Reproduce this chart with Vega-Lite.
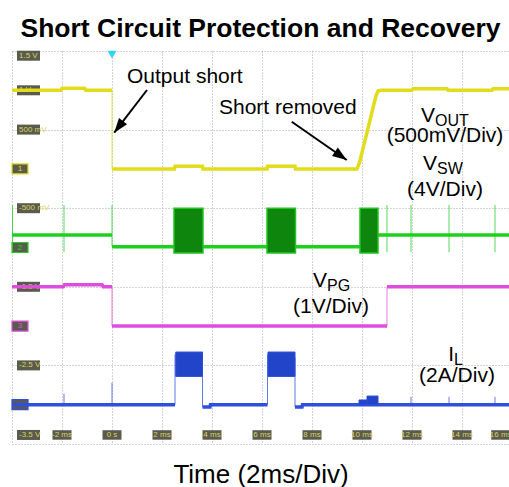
{
  "$schema": "https://vega.github.io/schema/vega-lite/v6.json",
  "width": 497,
  "height": 393,
  "autosize": "none",
  "padding": {"left": 12, "top": 51, "right": 0, "bottom": 43},
  "background": "white",
  "title": {"text": "Short Circuit Protection and Recovery", "font": "Liberation Sans", "fontSize": 26.5, "fontWeight": "bold", "color": "#000000", "anchor": "middle", "offset": 8},
  "config": {
    "view": {"stroke": null},
    "axis": {"labels": false, "ticks": false, "domain": false, "grid": true, "gridColor": "#a8a8a8", "gridDash": [1, 2], "gridWidth": 1}
  },
  "datasets": {
    "traces": [
      {"ch": "VOUT", "seg": "y1", "t": -4, "v": 1.0}, {"ch": "VOUT", "seg": "y1", "t": -2.05, "v": 1.0}, {"ch": "VOUT", "seg": "y1", "t": -2.0, "v": 1.025}, {"ch": "VOUT", "seg": "y1", "t": -1.1, "v": 1.025}, {"ch": "VOUT", "seg": "y1", "t": -1.05, "v": 1.0}, {"ch": "VOUT", "seg": "y1", "t": 0, "v": 1.0},
      {"ch": "VOUT", "seg": "y2", "t": 0, "v": 0.0}, {"ch": "VOUT", "seg": "y2", "t": 2.5, "v": 0.0}, {"ch": "VOUT", "seg": "y2", "t": 2.52, "v": 0.035}, {"ch": "VOUT", "seg": "y2", "t": 3.62, "v": 0.035}, {"ch": "VOUT", "seg": "y2", "t": 3.64, "v": 0.0}, {"ch": "VOUT", "seg": "y2", "t": 6.2, "v": 0.0}, {"ch": "VOUT", "seg": "y2", "t": 6.22, "v": 0.035}, {"ch": "VOUT", "seg": "y2", "t": 7.32, "v": 0.035}, {"ch": "VOUT", "seg": "y2", "t": 7.34, "v": 0.0}, {"ch": "VOUT", "seg": "y2", "t": 9.8, "v": 0.0}, {"ch": "VOUT", "seg": "y2", "t": 9.9, "v": 0.08}, {"ch": "VOUT", "seg": "y2", "t": 10.56, "v": 0.93}, {"ch": "VOUT", "seg": "y2", "t": 10.64, "v": 0.99}, {"ch": "VOUT", "seg": "y2", "t": 10.76, "v": 1.0}, {"ch": "VOUT", "seg": "y2", "t": 12.0, "v": 1.0}, {"ch": "VOUT", "seg": "y2", "t": 12.04, "v": 1.02}, {"ch": "VOUT", "seg": "y2", "t": 13.4, "v": 1.02}, {"ch": "VOUT", "seg": "y2", "t": 13.44, "v": 1.0}, {"ch": "VOUT", "seg": "y2", "t": 15.2, "v": 1.0}, {"ch": "VOUT", "seg": "y2", "t": 15.24, "v": 1.02}, {"ch": "VOUT", "seg": "y2", "t": 15.88, "v": 1.02},
      {"ch": "VSW", "seg": "g1", "t": -4, "v": -0.84}, {"ch": "VSW", "seg": "g1", "t": 0, "v": -0.84},
      {"ch": "VSW", "seg": "g2", "t": 0, "v": -0.99}, {"ch": "VSW", "seg": "g2", "t": 9.92, "v": -0.99}, {"ch": "VSW", "seg": "g2", "t": 10.64, "v": -0.84}, {"ch": "VSW", "seg": "g2", "t": 15.88, "v": -0.84},
      {"ch": "VPG", "seg": "p1", "t": -4, "v": -1.5}, {"ch": "VPG", "seg": "p1", "t": -1.95, "v": -1.5}, {"ch": "VPG", "seg": "p1", "t": -1.9, "v": -1.475}, {"ch": "VPG", "seg": "p1", "t": -0.4, "v": -1.475}, {"ch": "VPG", "seg": "p1", "t": -0.35, "v": -1.5}, {"ch": "VPG", "seg": "p1", "t": 0, "v": -1.5},
      {"ch": "VPG", "seg": "p2", "t": 0, "v": -2.0}, {"ch": "VPG", "seg": "p2", "t": 11.0, "v": -2.0},
      {"ch": "VPG", "seg": "p3", "t": 11.0, "v": -1.5}, {"ch": "VPG", "seg": "p3", "t": 15.88, "v": -1.5},
      {"ch": "IL", "seg": "i1", "t": -4, "v": -3.0}, {"ch": "IL", "seg": "i1", "t": 2.52, "v": -3.0},
      {"ch": "IL", "seg": "i2", "t": 3.62, "v": -3.03}, {"ch": "IL", "seg": "i2", "t": 3.92, "v": -3.03}, {"ch": "IL", "seg": "i2", "t": 3.94, "v": -3.0}, {"ch": "IL", "seg": "i2", "t": 6.22, "v": -3.0},
      {"ch": "IL", "seg": "i3", "t": 7.32, "v": -3.03}, {"ch": "IL", "seg": "i3", "t": 7.6, "v": -3.03}, {"ch": "IL", "seg": "i3", "t": 7.62, "v": -3.0}, {"ch": "IL", "seg": "i3", "t": 15.88, "v": -3.0}
    ],
    "bursts": [
      {"ch": "VSW", "t0": 2.48, "t1": 3.64, "top": -0.5, "bottom": -1.07},
      {"ch": "VSW", "t0": 6.2, "t1": 7.34, "top": -0.5, "bottom": -1.07},
      {"ch": "VSW", "t0": 9.92, "t1": 10.64, "top": -0.5, "bottom": -1.07},
      {"ch": "IL", "t0": 2.55, "t1": 3.62, "top": -2.33, "bottom": -2.64},
      {"ch": "IL", "t0": 6.24, "t1": 7.32, "top": -2.33, "bottom": -2.64},
      {"ch": "IL", "t0": 9.88, "t1": 10.2, "top": -2.94, "bottom": -3.0},
      {"ch": "IL", "t0": 10.2, "t1": 10.64, "top": -2.89, "bottom": -3.0}
    ],
    "spikes": [
      {"ch": "VOUT", "t": 0.0, "lo": 0.0, "hi": 1.0},
      {"ch": "VSW", "t": -3.98, "lo": -1.06, "hi": -0.46},
      {"ch": "VSW", "t": -1.92, "lo": -1.06, "hi": -0.46},
      {"ch": "VSW", "t": 0.0, "lo": -0.99, "hi": -0.46},
      {"ch": "VSW", "t": 11.0, "lo": -1.06, "hi": -0.46},
      {"ch": "VSW", "t": 11.96, "lo": -1.06, "hi": -0.46},
      {"ch": "VSW", "t": 13.48, "lo": -1.06, "hi": -0.46},
      {"ch": "VSW", "t": 15.32, "lo": -1.06, "hi": -0.46},
      {"ch": "VPG", "t": 0.0, "lo": -2.0, "hi": -1.5},
      {"ch": "VPG", "t": 11.0, "lo": -2.0, "hi": -1.5},
      {"ch": "IL", "t": -1.92, "lo": -3.0, "hi": -2.86},
      {"ch": "IL", "t": 0.0, "lo": -3.0, "hi": -2.72},
      {"ch": "IL", "t": 2.52, "lo": -3.0, "hi": -2.36},
      {"ch": "IL", "t": 3.62, "lo": -3.03, "hi": -2.4},
      {"ch": "IL", "t": 6.22, "lo": -3.0, "hi": -2.36},
      {"ch": "IL", "t": 7.32, "lo": -3.03, "hi": -2.4},
      {"ch": "IL", "t": 11.96, "lo": -3.0, "hi": -2.9},
      {"ch": "IL", "t": 13.48, "lo": -3.0, "hi": -2.9},
      {"ch": "IL", "t": 15.32, "lo": -3.0, "hi": -2.9}
    ],
    "xlabels": [
      {"t": -2, "v": -3.385, "label": "-2 ms"}, {"t": 0, "v": -3.385, "label": "0 s"}, {"t": 2, "v": -3.385, "label": "2 ms"}, {"t": 4, "v": -3.385, "label": "4 ms"}, {"t": 6, "v": -3.385, "label": "6 ms"}, {"t": 8, "v": -3.385, "label": "8 ms"}, {"t": 10, "v": -3.385, "label": "10 ms"}, {"t": 12, "v": -3.385, "label": "12 ms"}, {"t": 14, "v": -3.385, "label": "14 ms"}, {"t": 15.55, "v": -3.385, "label": "16 ms"}
    ],
    "ylabels": [
      {"t": -3.8, "v": 1.44, "label": "1.5 V"}, {"t": -3.8, "v": 1.0, "label": "1 V"}, {"t": -3.8, "v": 0.5, "label": "500 mV"}, {"t": -3.8, "v": -0.5, "label": "-500 mV"}, {"t": -3.8, "v": -1.5, "label": "-1.5 V"}, {"t": -3.8, "v": -2.5, "label": "-2.5 V"}, {"t": -3.8, "v": -3.385, "label": "-3.5 V"}
    ],
    "markers": [
      {"ch": "VOUT", "t": -4, "v": 0, "label": "1"}, {"ch": "VSW", "t": -4, "v": -1, "label": "2"}, {"ch": "VPG", "t": -4, "v": -2, "label": "3"}, {"ch": "IL", "t": -4, "v": -3, "label": "4"}
    ],
    "trigger": [{"t": 0, "v": 1.455}],
    "arrows": [
      {"id": "a1", "t": 1.4, "v": 1.004}, {"id": "a1", "t": 0.09, "v": 0.461},
      {"id": "a2", "t": 7.19, "v": 0.6}, {"id": "a2", "t": 9.39, "v": 0.113}
    ],
    "heads": [
      {"t": 0.09, "v": 0.461, "angle": 217.4},
      {"t": 9.39, "v": 0.113, "angle": 124.9}
    ],
    "notesLeft": [
      {"t": 0.6, "v": 1.089, "text": "Output short"},
      {"t": 4.28, "v": 0.698, "text": "Short removed"}
    ],
    "notesCenter": [
      {"t": 13.32, "v": 0.346, "text": "(500mV/Div)"},
      {"t": 13.32, "v": -0.345, "text": "(4V/Div)"},
      {"t": 8.76, "v": -1.835, "text": "(1V/Div)"},
      {"t": 13.8, "v": -2.71, "text": "(2A/Div)"}
    ],
    "symbols": [
      {"t": 12.92, "v": 0.6, "main": "V", "sub": "OUT"},
      {"t": 13.0, "v": -0.02, "main": "V", "sub": "SW"},
      {"t": 8.6, "v": -1.5, "main": "V", "sub": "PG"},
      {"t": 13.68, "v": -2.45, "main": "I", "sub": "L"}
    ]
  },
  "layer": [
    {
      "data": {"name": "ylabels"},
      "mark": {"type": "point", "shape": "M0,-0.5H2.3V0.5H0Z", "filled": true, "size": 400, "color": "#5b5b4d", "opacity": 1},
      "encoding": {
        "x": {"field": "t", "type": "quantitative", "scale": {"domain": [-4, 15.88], "nice": false, "zero": false}, "axis": {"values": [-4, -2, 0, 2, 4, 6, 8, 10, 12, 14], "title": "Time (2ms/Div)", "titleFont": "Liberation Sans", "titleFontSize": 26, "titleFontWeight": "normal", "titleColor": "#000000", "titlePadding": 17}},
        "y": {"field": "v", "type": "quantitative", "scale": {"domain": [-3.5, 1.5], "nice": false, "zero": false}, "axis": {"values": [-3.5, -3, -2.5, -2, -1.5, -1, -0.5, 0, 0.5, 1, 1.5], "title": null}}
      }
    },
    {
      "data": {"name": "ylabels"},
      "mark": {"type": "text", "align": "left", "baseline": "middle", "dx": 2, "font": "Liberation Sans", "fontSize": 8, "color": "#d6d266"},
      "encoding": {
        "x": {"field": "t", "type": "quantitative", "title": "Time (2ms/Div)"},
        "y": {"field": "v", "type": "quantitative", "title": null},
        "text": {"field": "label"}
      }
    },
    {
      "data": {"name": "xlabels"},
      "mark": {"type": "point", "shape": "M-1,-0.5H1V0.5H-1Z", "filled": true, "size": 361, "color": "#5b5b4d", "opacity": 1},
      "encoding": {
        "x": {"field": "t", "type": "quantitative", "title": "Time (2ms/Div)"},
        "y": {"field": "v", "type": "quantitative", "title": null}
      }
    },
    {
      "data": {"name": "xlabels"},
      "mark": {"type": "text", "align": "center", "baseline": "middle", "font": "Liberation Sans", "fontSize": 8, "color": "#d6d266"},
      "encoding": {
        "x": {"field": "t", "type": "quantitative", "title": "Time (2ms/Div)"},
        "y": {"field": "v", "type": "quantitative", "title": null},
        "text": {"field": "label"}
      }
    },
    {
      "data": {"name": "markers"},
      "mark": {"type": "point", "shape": "M0,-0.5H1.6V0.5H0Z", "filled": true, "size": 400, "fill": "#5b5b4d", "strokeWidth": 1.2, "opacity": 1},
      "encoding": {
        "x": {"field": "t", "type": "quantitative", "title": "Time (2ms/Div)"},
        "y": {"field": "v", "type": "quantitative", "title": null},
        "stroke": {"field": "ch", "type": "nominal", "scale": {"domain": ["VOUT", "VSW", "VPG", "IL"], "range": ["#e2dc1c", "#1ed01e", "#de4ede", "#2f4fdc"]}, "legend": null}
      }
    },
    {
      "data": {"name": "markers"},
      "mark": {"type": "text", "align": "center", "baseline": "middle", "dx": 8, "font": "Liberation Sans", "fontSize": 8},
      "encoding": {
        "x": {"field": "t", "type": "quantitative", "title": "Time (2ms/Div)"},
        "y": {"field": "v", "type": "quantitative", "title": null},
        "text": {"field": "label"},
        "color": {"field": "ch", "type": "nominal", "scale": {"domain": ["VOUT", "VSW", "VPG", "IL"], "range": ["#e2dc1c", "#1ed01e", "#de4ede", "#2f4fdc"]}, "legend": null}
      }
    },
    {
      "data": {"name": "traces"},
      "mark": {"type": "line", "strokeWidth": 3.5, "strokeJoin": "miter", "interpolate": "linear"},
      "encoding": {
        "x": {"field": "t", "type": "quantitative", "title": "Time (2ms/Div)"},
        "y": {"field": "v", "type": "quantitative", "title": null},
        "detail": {"field": "seg"},
        "color": {"field": "ch", "type": "nominal", "scale": {"domain": ["VOUT", "VSW", "VPG", "IL"], "range": ["#e2dc1c", "#1ed01e", "#de4ede", "#2f4fdc"]}, "legend": null}
      }
    },
    {
      "data": {"name": "bursts"},
      "transform": [{"filter": "datum.ch == 'VSW'"}],
      "mark": {"type": "rect", "fill": "#0e860e", "stroke": "#22c422", "strokeWidth": 1.5},
      "encoding": {
        "x": {"field": "t0", "type": "quantitative", "title": "Time (2ms/Div)"},
        "x2": {"field": "t1"},
        "y": {"field": "top", "type": "quantitative", "title": null},
        "y2": {"field": "bottom"}
      }
    },
    {
      "data": {"name": "bursts"},
      "transform": [{"filter": "datum.ch == 'IL'"}],
      "mark": {"type": "rect", "fill": "#2244c8", "stroke": "#2a4cd4", "strokeWidth": 1},
      "encoding": {
        "x": {"field": "t0", "type": "quantitative", "title": "Time (2ms/Div)"},
        "x2": {"field": "t1"},
        "y": {"field": "top", "type": "quantitative", "title": null},
        "y2": {"field": "bottom"}
      }
    },
    {
      "data": {"name": "spikes"},
      "mark": {"type": "rule", "strokeWidth": 1, "opacity": 0.75},
      "encoding": {
        "x": {"field": "t", "type": "quantitative", "title": "Time (2ms/Div)"},
        "y": {"field": "lo", "type": "quantitative", "title": null},
        "y2": {"field": "hi"},
        "color": {"field": "ch", "type": "nominal", "scale": {"domain": ["VOUT", "VSW", "VPG", "IL"], "range": ["#e2dc1c", "#1ed01e", "#de4ede", "#2f4fdc"]}, "legend": null}
      }
    },
    {
      "data": {"name": "trigger"},
      "mark": {"type": "point", "shape": "triangle-down", "filled": true, "size": 80, "color": "#2fd6ee", "opacity": 1},
      "encoding": {
        "x": {"field": "t", "type": "quantitative", "title": "Time (2ms/Div)"},
        "y": {"field": "v", "type": "quantitative", "title": null}
      }
    },
    {
      "data": {"name": "arrows"},
      "mark": {"type": "line", "color": "#000000", "strokeWidth": 2},
      "encoding": {
        "x": {"field": "t", "type": "quantitative", "title": "Time (2ms/Div)"},
        "y": {"field": "v", "type": "quantitative", "title": null},
        "detail": {"field": "id"}
      }
    },
    {
      "data": {"name": "heads"},
      "mark": {"type": "point", "shape": "M0,0L0.6,1.7L-0.6,1.7Z", "filled": true, "size": 289, "color": "#000000", "opacity": 1},
      "encoding": {
        "x": {"field": "t", "type": "quantitative", "title": "Time (2ms/Div)"},
        "y": {"field": "v", "type": "quantitative", "title": null},
        "angle": {"field": "angle", "type": "quantitative", "scale": null}
      }
    },
    {
      "data": {"name": "notesLeft"},
      "mark": {"type": "text", "align": "left", "baseline": "alphabetic", "font": "Liberation Sans", "fontSize": 21, "color": "#000000"},
      "encoding": {
        "x": {"field": "t", "type": "quantitative", "title": "Time (2ms/Div)"},
        "y": {"field": "v", "type": "quantitative", "title": null},
        "text": {"field": "text"}
      }
    },
    {
      "data": {"name": "notesCenter"},
      "mark": {"type": "text", "align": "center", "baseline": "alphabetic", "font": "Liberation Sans", "fontSize": 21, "color": "#000000"},
      "encoding": {
        "x": {"field": "t", "type": "quantitative", "title": "Time (2ms/Div)"},
        "y": {"field": "v", "type": "quantitative", "title": null},
        "text": {"field": "text"}
      }
    },
    {
      "data": {"name": "symbols"},
      "mark": {"type": "text", "align": "right", "baseline": "alphabetic", "font": "Liberation Sans", "fontSize": 21, "color": "#000000"},
      "encoding": {
        "x": {"field": "t", "type": "quantitative", "title": "Time (2ms/Div)"},
        "y": {"field": "v", "type": "quantitative", "title": null},
        "text": {"field": "main"}
      }
    },
    {
      "data": {"name": "symbols"},
      "mark": {"type": "text", "align": "left", "baseline": "alphabetic", "dy": 4, "font": "Liberation Sans", "fontSize": 16, "color": "#000000"},
      "encoding": {
        "x": {"field": "t", "type": "quantitative", "title": "Time (2ms/Div)"},
        "y": {"field": "v", "type": "quantitative", "title": null},
        "text": {"field": "sub"}
      }
    }
  ]
}
